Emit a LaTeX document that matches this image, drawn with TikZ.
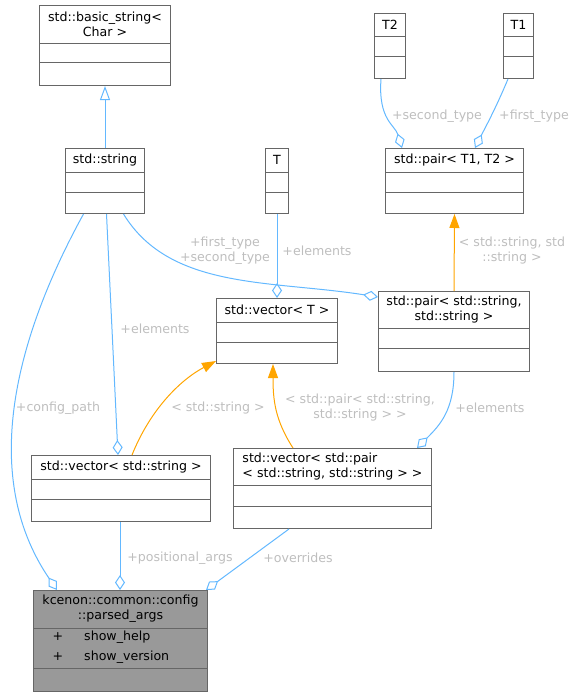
\documentclass[tikz,border=0pt]{standalone}
\usepackage{fontspec}
\setmainfont{DejaVu Sans}
\usetikzlibrary{arrows.meta}
\definecolor{edgeblue}{HTML}{63B8FF}
\definecolor{edgeorange}{HTML}{FFA500}
\definecolor{boxgray}{HTML}{666666}
\definecolor{lblgray}{HTML}{BEBEBE}
\definecolor{fillgray}{HTML}{999999}
\tikzset{
  cls/.style={draw=boxgray, line width=1pt, fill=white, inner sep=0pt},
  divline/.style={draw=boxgray, line width=1pt},
  ttl/.style={inner sep=0pt, font=\fontsize{12.6}{15}\selectfont},
  lbl/.style={ttl, text=lblgray, align=center},
  aggr/.style={draw=edgeblue, line width=1pt, -{Diamond[open, length=15pt, width=10pt]}},
  inst/.style={draw=edgeorange, line width=1pt, -{Triangle[length=14pt, width=10pt, fill=edgeorange]}},
  inherit/.style={draw=edgeblue, line width=1pt, -{Triangle[open, length=14pt, width=10pt]}}
}
% box: [title align] name, x, y, width, height, first divider, second divider, title
\newcommand{\umlbox}[9][center]{%
  \node[cls, anchor=north west, minimum width=#5, minimum height=#6] (#2) at (#3,#4) {};
  \draw[divline] ([yshift=-#7]#2.north west) -- ([yshift=-#7]#2.north east)
    ([yshift=-#8]#2.north west) -- ([yshift=-#8]#2.north east);
  \node[ttl, align=#1] (#2-title) at ([yshift=-#7/2]#2.north) {#9};}
\begin{document}
\begin{tikzpicture}[x=1pt, y=-1pt]
  \useasboundingbox (0,0) rectangle (577,696);
  \umlbox{bstr}{39}{5}{131}{80}{38}{57}{std::basic\_string<\\Char >}
  \umlbox{str}{65}{148}{79}{65}{24}{44}{std::string}
  \umlbox{tT}{265}{148}{23}{65}{24}{44}{T}
  \umlbox{tT2}{374}{13}{31}{65}{23}{43}{T2}
  \umlbox{tT1}{503}{13}{30}{65}{23}{43}{T1}
  \umlbox{pairT}{385}{148}{138}{65}{24}{44}{std::pair< T1, T2 >}
  \umlbox{vecT}{216}{298}{121}{65}{24}{44}{std::vector< T >}
  \umlbox{pairS}{378}{291}{151}{80}{37}{57}{std::pair< std::string,\\std::string >}
  \umlbox{vecS}{31}{455}{179}{66}{24}{44}{std::vector< std::string >}
  \umlbox[left]{vecP}{233}{448}{198}{80}{37}{58}{std::vector< std::pair\\< std::string, std::string > >}
  % the documented struct
  \node[cls, fill=fillgray, anchor=north west, minimum width=174, minimum height=101] (args) at (33,590) {};
  \draw[divline] ([yshift=-38]args.north west) -- ([yshift=-38]args.north east)
    ([yshift=-78]args.north west) -- ([yshift=-78]args.north east);
  \node[ttl, align=center] (args-title) at ([yshift=-19]args.north) {kcenon::common::config\\::parsed\_args};
  \node[ttl] (args-p1) at (58,637) {+};
  \node[ttl, anchor=west] (args-help) at (84,637) {show\_help};
  \node[ttl] (args-p2) at (58,657) {+};
  \node[ttl, anchor=west] (args-version) at (84,657) {show\_version};

  % inheritance
  \draw[inherit] (str.north) -- (bstr.south);
  % members
  \draw[aggr] ([xshift=-21.5]str.south) .. controls (28,315) and (-28,465) .. ([xshift=24]args.north west);
  \draw[aggr] ([xshift=1.5]str.south) -- ([xshift=87]vecS.north west);
  \draw[aggr] ([xshift=18.5]str.south) .. controls (170,290) and (270,280) .. ([yshift=-6]pairS.north west);
  \draw[aggr] (tT.south) -- (vecT.north);
  \draw[aggr] ([xshift=7]tT2.south west) .. controls (378,120) and (395,125) .. ([xshift=17]pairT.north west);
  \draw[aggr] ([xshift=5]tT1.south west) .. controls (495,110) and (485,128) .. ([xshift=90]pairT.north west);
  \draw[aggr] ([xshift=76]pairS.south west) .. controls (454,410) and (440,425) .. ([xshift=184]vecP.north west);
  \draw[aggr] ([xshift=89]vecS.south west) -- ([xshift=87]args.north west);
  \draw[aggr] ([xshift=56]vecP.south west) -- ([xshift=-2]args.north east);
  % template instances
  \draw[inst] (pairS.north) -- (pairT.south);
  \draw[inst] ([xshift=101]vecS.north west) .. controls (150,410) and (180,380) .. ([yshift=3]vecT.south west);
  \draw[inst] ([xshift=60]vecP.north west) .. controls (275,420) and (273,400) .. ([xshift=57]vecT.south west);

  % edge labels
  \node[lbl] (l-config) at (58,408) {+config\_path};
  \node[lbl] (l-elem-str) at (155,329) {+elements};
  \node[lbl] (l-firstsecond) at (225,251) {+first\_type\\+second\_type};
  \node[lbl] (l-elem-T) at (317,251) {+elements};
  \node[lbl] (l-second) at (437,116) {+second\_type};
  \node[lbl] (l-first) at (534,116) {+first\_type};
  \node[lbl] (l-pairS) at (512,251) {< std::string, std\\::string >};
  \node[lbl] (l-vecS) at (218,408) {< std::string >};
  \node[lbl] (l-vecP) at (360,408) {< std::pair< std::string,\\std::string > >};
  \node[lbl] (l-elem-pair) at (490,408) {+elements};
  \node[lbl] (l-positional) at (180,558) {+positional\_args};
  \node[lbl] (l-overrides) at (298,558) {+overrides};
\end{tikzpicture}
\end{document}
